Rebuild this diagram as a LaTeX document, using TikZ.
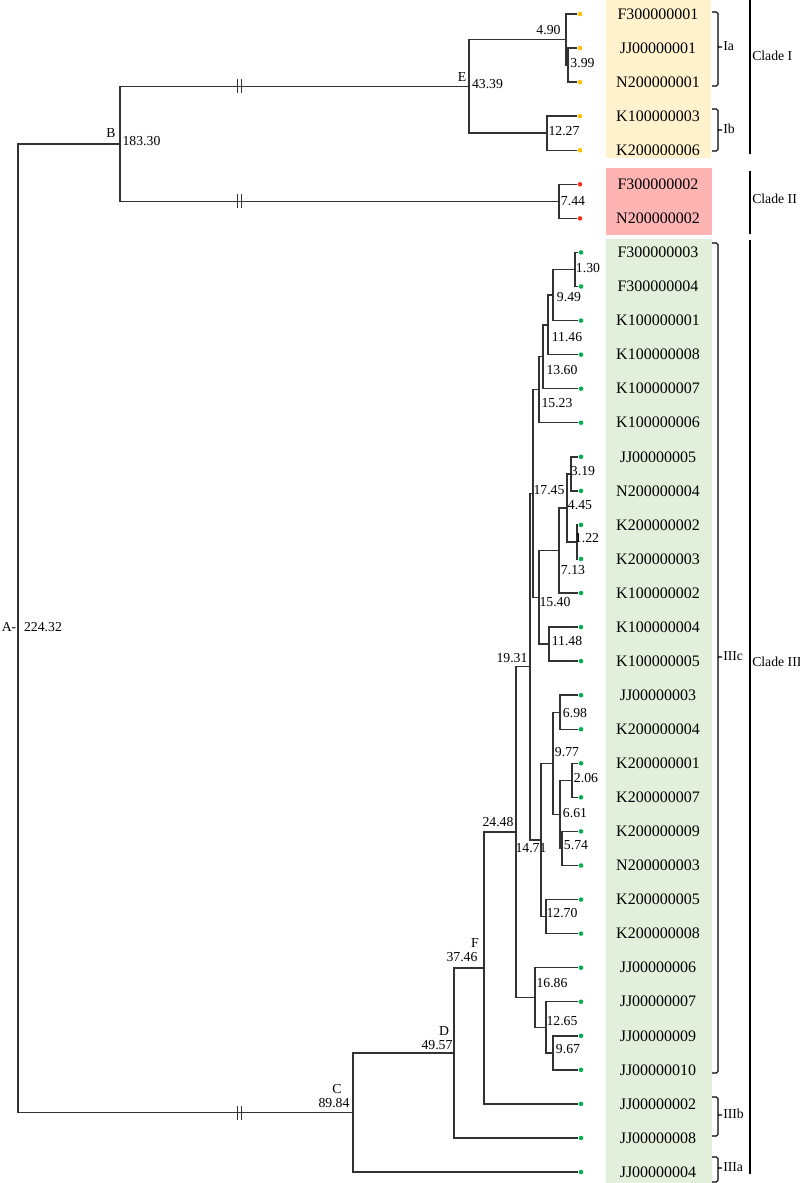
\documentclass[tikz,border=0pt]{standalone}
\usepackage{fontspec}
\setmainfont{Liberation Serif}
\definecolor{boxI}{RGB}{255,242,204}
\definecolor{boxII}{RGB}{255,180,180}
\definecolor{boxIII}{RGB}{226,239,218}
\definecolor{tipI}{RGB}{255,192,0}
\definecolor{tipII}{RGB}{250,45,30}
\definecolor{tipIII}{RGB}{0,176,80}
\definecolor{branch}{RGB}{50,50,50}

\begin{document}
\begin{tikzpicture}[x=0.75pt,y=-0.75pt,
  edge/.style={draw=branch,line width=1.1pt},
  tip/.style={circle,inner sep=0pt,minimum size=3.4pt},
  leaf/.style={inner sep=0pt,font=\fontsize{12}{14}\selectfont},
  val/.style={inner sep=0pt,font=\fontsize{10.3}{12}\selectfont},
  clade/.style={inner sep=0pt,anchor=west,font=\fontsize{10.3}{12}\selectfont},
  brace/.style={draw=black,line width=0.8pt,rounded corners=1.2pt}]
  \useasboundingbox (0,0) rectangle (800,1183);

  % label boxes
  \fill[boxI] (606,0) rectangle (711,158);
  \fill[boxII] (606,168) rectangle (712,235);
  \fill[boxIII] (606,239) rectangle (712,1183);

  % tips and names
  \foreach \nm [count=\i from 0] in {F300000001,JJ00000001,N200000001,K100000003,K200000006}
    {\node[tip,fill=tipI] (l\i) at (580,{14+34.06*\i}) {};
     \node[leaf] (t\i) at (658,{14+34.06*\i}) {\nm};}
  \foreach \nm [count=\i from 5] in {F300000002,N200000002}
    {\node[tip,fill=tipII] (l\i) at (580,{14+34.06*\i}) {};
     \node[leaf] (t\i) at (658,{14+34.06*\i}) {\nm};}
  \foreach \nm [count=\i from 7] in {F300000003,F300000004,K100000001,K100000008,K100000007,
      K100000006,JJ00000005,N200000004,K200000002,K200000003,K100000002,K100000004,
      K100000005,JJ00000003,K200000004,K200000001,K200000007,K200000009,N200000003,
      K200000005,K200000008,JJ00000006,JJ00000007,JJ00000009,JJ00000010,JJ00000002,
      JJ00000008,JJ00000004}
    {\node[tip,fill=tipIII] (l\i) at (581,{14+34.06*\i}) {};
     \node[leaf] (t\i) at (658,{14+34.06*\i}) {\nm};}

  % inner nodes
  \foreach \n/\x/\y in {A/18/628.19, B/120/143.86, E/469/86.38, n490/566/39.55,
      n399/568/65.09, n1227/547/133.21, n744/559/201.33, C/353/1112.52, D/454/1053,
      F/484/968.02, n2448/516/832.11, n1931/530/666.73, n1745/533/493.5,
      n1523/539/389.73, n1360/543/356.73, n1146/548/324.8, n949/553/295,
      n130/575/269.45, n1540/539/597.28, n713/559/550.45, n445/567/507.87,
      n319/571/473.81, n122/577/541.93, n1148/549/644.11, n1471/541/839.96,
      n977/553/763.32, n698/560/712.23, n661/560/814.41, n206/572/780.35,
      n574/562/848.47, n1270/546/916.59, n1686/535/997.49, n1265/546/1027.29,
      n967/553/1052.83}
    \coordinate (\n) at (\x,\y);

  % branches
  \foreach \p/\c in {A/B, A/C, B/E, B/n744, E/n490, E/n1227, n490/l0, n490/n399,
      n399/l1, n399/l2, n1227/l3, n1227/l4, n744/l5, n744/l6, C/D, C/l34, D/F, D/l33,
      F/n2448, F/l32, n2448/n1931, n2448/n1686, n1931/n1745, n1931/n1471,
      n1745/n1523, n1745/n1540, n1523/n1360, n1523/l12, n1360/n1146, n1360/l11,
      n1146/n949, n1146/l10, n949/n130, n949/l9, n130/l7, n130/l8, n1540/n713,
      n1540/n1148, n713/n445, n713/l17, n445/n319, n445/n122, n319/l13, n319/l14,
      n122/l15, n122/l16, n1148/l18, n1148/l19, n1471/n977, n1471/n1270,
      n977/n698, n977/n661, n698/l20, n698/l21, n661/n206, n661/n574, n206/l22,
      n206/l23, n574/l24, n574/l25, n1270/l26, n1270/l27, n1686/l28, n1686/n1265,
      n1265/l29, n1265/n967, n967/l30, n967/l31}
    \draw[edge] (\p) |- (\c);

  % breaks
  \foreach \y in {86.38,201.33,1112.52}
    \draw[edge] (237.5,\y-7) -- (237.5,\y+7) (241.5,\y-7) -- (241.5,\y+7);

  % node letters and values
  \node[val] (nA) at (9,627) {A-};
  \foreach \t/\x/\y [count=\k] in {B/111/133, E/462/77, C/337/1089, D/444/1031, F/475/943}
    \node[val] (k\k) at (\x,\y) {\t};
  \foreach \t/\x/\y [count=\k] in {224.32/43/627, 183.30/141.5/141, 43.39/487.5/84,
      4.90/548.5/30, 3.99/582.5/63, 12.27/564/131, 7.44/573/201, 89.84/334/1103,
      49.57/437/1045, 37.46/462/957, 24.48/498/822, 19.31/512/658, 17.45/549/490,
      15.23/557/403, 13.60/562/370, 11.46/567/337, 9.49/569/297, 1.30/588/268,
      15.40/555/602, 7.13/573/570, 4.45/580/505, 3.19/583/471, 1.22/587/538,
      11.48/567/641, 14.71/531/848, 9.77/567/752, 6.98/575/713, 6.61/575/813,
      2.06/586/778, 5.74/576/845, 12.70/562/913, 16.86/552/983, 12.65/562/1021,
      9.67/568/1049}
    \node[val] (v\k) at (\x,\y) {\t};

  % sub-clade brackets
  \foreach \ya/\yb/\ym/\lab in {12/86/47/Ia, 109/151/130/Ib, 243/1073/657/IIIc,
      1097/1136/1115/IIIb, 1157/1182/1168/IIIa}
    {\draw[brace] (712,\ya) -- (718,\ya) -- (718,\yb) -- (712,\yb) (718,\ym) -- (722,\ym);
     \node[clade] (b\lab) at (723,\ym-1) {\lab};}

  % clades
  \draw[line width=0.8pt] (750,0) -- (750,154);
  \draw[line width=0.8pt] (750,171) -- (750,234);
  \draw[line width=0.8pt] (750,240) -- (750,1174);
  \node[clade] (cI) at (752,56) {Clade I};
  \node[clade] (cII) at (752,199) {Clade II};
  \node[clade] (cIII) at (752,662) {Clade III};
\end{tikzpicture}
\end{document}
